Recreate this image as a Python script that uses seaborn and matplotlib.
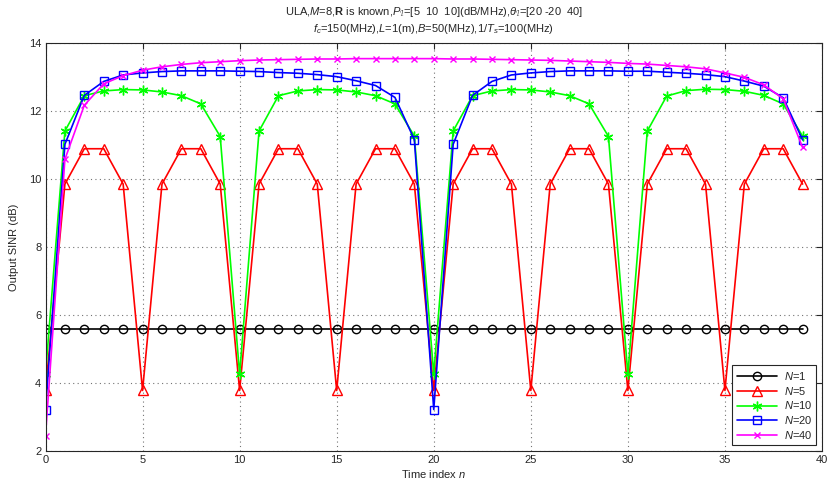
import matplotlib
matplotlib.use("Agg")
import matplotlib.pyplot as plt
import seaborn as sns
import pandas as pd

# Time index
n = list(range(40))

# Output SINR (dB) for each window length N
sinr_n1 = [5.6] * 40
sinr_n5 = [3.78, 9.85, 10.89, 10.89, 9.85, 3.78, 9.85, 10.89, 10.89, 9.85,
           3.78, 9.85, 10.89, 10.89, 9.85, 3.78, 9.85, 10.89, 10.89, 9.85,
           3.78, 9.85, 10.89, 10.89, 9.85, 3.78, 9.85, 10.89, 10.89, 9.85,
           3.78, 9.85, 10.89, 10.89, 9.85, 3.78, 9.85, 10.89, 10.89, 9.85]
sinr_n10 = [4.26, 11.41, 12.45, 12.59, 12.63, 12.62, 12.56, 12.45, 12.21, 11.25,
            4.26, 11.41, 12.45, 12.59, 12.63, 12.62, 12.56, 12.45, 12.21, 11.26,
            4.26, 11.41, 12.45, 12.59, 12.63, 12.62, 12.56, 12.45, 12.21, 11.25,
            4.26, 11.41, 12.44, 12.60, 12.64, 12.63, 12.58, 12.46, 12.21, 11.26]
sinr_n20 = [3.22, 11.02, 12.46, 12.87, 13.06, 13.12, 13.16, 13.18, 13.18, 13.18,
            13.17, 13.16, 13.13, 13.11, 13.07, 13.01, 12.89, 12.75, 12.40, 11.16,
            3.22, 11.02, 12.46, 12.87, 13.06, 13.12, 13.16, 13.18, 13.18, 13.18,
            13.17, 13.17, 13.14, 13.11, 13.07, 13.01, 12.88, 12.73, 12.39, 11.15]
sinr_n40 = [2.45, 10.58, 12.17, 12.80, 13.04, 13.20, 13.30, 13.37, 13.42, 13.45,
            13.48, 13.50, 13.51, 13.52, 13.53, 13.53, 13.54, 13.54, 13.54, 13.54,
            13.54, 13.53, 13.53, 13.52, 13.51, 13.50, 13.49, 13.47, 13.45, 13.43,
            13.40, 13.38, 13.34, 13.30, 13.24, 13.12, 12.99, 12.77, 12.36, 10.93]

labels = ["$N$=1", "$N$=5", "$N$=10", "$N$=20", "$N$=40"]
x_ticks = [0, 5, 10, 15, 20, 25, 30, 35, 40]
y_ticks = [2, 4, 6, 8, 10, 12, 14]

df = pd.DataFrame({"n": n, "N1": sinr_n1, "N5": sinr_n5, "N10": sinr_n10,
                   "N20": sinr_n20, "N40": sinr_n40})

sns.set_style("white")
plt.rcParams["font.family"] = ["Liberation Sans", "DejaVu Sans"]
plt.rcParams["mathtext.fontset"] = "custom"
plt.rcParams["mathtext.rm"] = "Liberation Sans"
plt.rcParams["mathtext.it"] = "Liberation Sans:italic"
plt.rcParams["mathtext.bf"] = "Liberation Sans:bold"

fig = plt.figure(figsize=(8.27, 4.80), dpi=100)
ax = fig.add_axes([45.5 / 827, 1 - 451 / 480, (822 - 45.5) / 827, (451 - 43) / 480])

asterisk = (6, 2, 0)
styles = [
    ("N1", "k", "o", 6),
    ("N5", (1, 0, 0), "^", 7),
    ("N10", (0, 1, 0), asterisk, 7),
    ("N20", (0, 0, 1), "s", 6),
    ("N40", (1, 0, 1), "x", 5),
]
for (col, color, mk, ms), lab in zip(styles, labels):
    sns.lineplot(data=df, x="n", y=col, ax=ax, color=color, marker=mk,
                 markersize=ms, markerfacecolor="none", markeredgecolor=color,
                 markeredgewidth=1.0, linewidth=1.2, label=lab)

ax.set_xlim(0, 40)
ax.set_ylim(2, 14)
ax.set_xticks(x_ticks)
ax.set_yticks(y_ticks)
ax.tick_params(direction="in", length=4, width=0.8, labelsize=8,
               top=True, right=True, pad=3)
ax.grid(True, linestyle=(0, (1, 3)), color="0.45", linewidth=0.8)
for s in ax.spines.values():
    s.set_color("0.15")
    s.set_linewidth(0.8)

ax.set_xlabel("Time index $n$", fontsize=8, labelpad=2)
ax.set_ylabel("Output SINR (dB)", fontsize=8, labelpad=7)
ax.set_title("ULA,$M$=8,$\\mathbf{R}$ is known,$P_{\\mathcal{I}}$=[5  10  10](dB/MHz),"
             "$\\theta_{\\mathcal{I}}$=[20 -20  40]\n"
             "$f_c$=150(MHz),$L$=1(m),$B$=50(MHz),1/$T_s$=100(MHz)",
             fontsize=8, pad=8, linespacing=1.3)

leg = ax.legend(loc="lower right", fontsize=8, frameon=True, fancybox=False,
                edgecolor="0.15", framealpha=1, handlelength=3.6,
                labelspacing=0.25, borderpad=0.4, borderaxespad=0.5,
                handletextpad=0.6)
leg.get_frame().set_linewidth(0.8)

fig.savefig("out.png", dpi=100)
